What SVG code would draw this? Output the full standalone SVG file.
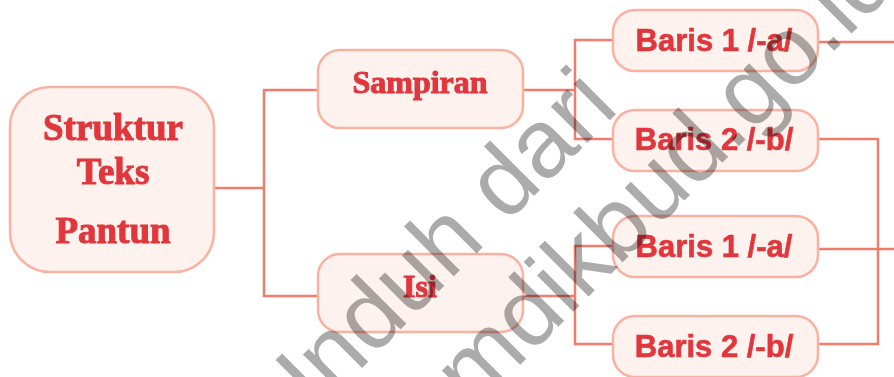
<svg xmlns="http://www.w3.org/2000/svg" width="894" height="377" viewBox="0 0 894 377">
<style>
.box{fill:#fdf2ee;stroke:#f9b2a2;stroke-width:2.5}
.lbl{font-family:"Liberation Serif","Times New Roman",serif;font-weight:bold;fill:#e0363c;stroke:#e0363c;stroke-width:1;text-anchor:middle}
.bl{font-family:"Liberation Sans",Arial,sans-serif;font-weight:bold;fill:#e0363c;stroke:#e0363c;stroke-width:0.6;text-anchor:middle;font-size:31px}
.con{fill:none;stroke:#f27c6c;stroke-width:2.5}
.wm{font-family:"Liberation Sans",Arial,sans-serif;font-size:97px;fill:#ababab;mix-blend-mode:multiply}
</style>
<rect width="894" height="377" fill="#ffffff"/>
<g id="connectors">
<path class="con" d="M214 188H264M318 90H264V296H318"/>
<path class="con" d="M523 90H575M613 40H575V139H613"/>
<path class="con" d="M523 296H575M613 246H575V344H613"/>
<path class="con" d="M818 42H894M818 249H894M818 139H878V344H818"/>
</g>
<g id="root">
<rect class="box" x="10" y="87" width="204" height="185" rx="40"/>
<text class="lbl" x="113" y="140" font-size="37">Struktur</text>
<text class="lbl" x="113" y="184" font-size="37">Teks</text>
<text class="lbl" x="113" y="243" font-size="37">Pantun</text>
</g>
<g id="sampiran">
<rect class="box" x="318" y="50" width="205" height="78" rx="22"/>
<text class="lbl" x="420" y="93" font-size="32">Sampiran</text>
</g>
<g id="isi">
<rect class="box" x="318" y="254" width="205" height="78" rx="22"/>
<text class="lbl" x="420" y="297" font-size="32">Isi</text>
</g>
<g id="s-baris1">
<rect class="box" x="613" y="10" width="205" height="61" rx="22"/>
<text class="bl" x="714" y="51">Baris 1 /-a/</text>
</g>
<g id="s-baris2">
<rect class="box" x="613" y="110" width="205" height="61" rx="22"/>
<text class="bl" x="714" y="150">Baris 2 /-b/</text>
</g>
<g id="i-baris1">
<rect class="box" x="613" y="216" width="205" height="61" rx="22"/>
<text class="bl" x="714" y="257">Baris 1 /-a/</text>
</g>
<g id="i-baris2">
<rect class="box" x="613" y="316" width="205" height="61" rx="22"/>
<text class="bl" x="714" y="357">Baris 2 /-b/</text>
</g>
<g id="watermark">
<text class="wm" transform="translate(285 445) rotate(-45)">Unduh dari</text>
<text class="wm" transform="translate(401 484) rotate(-45)">kemdikbud.go.id</text>
</g>
</svg>
